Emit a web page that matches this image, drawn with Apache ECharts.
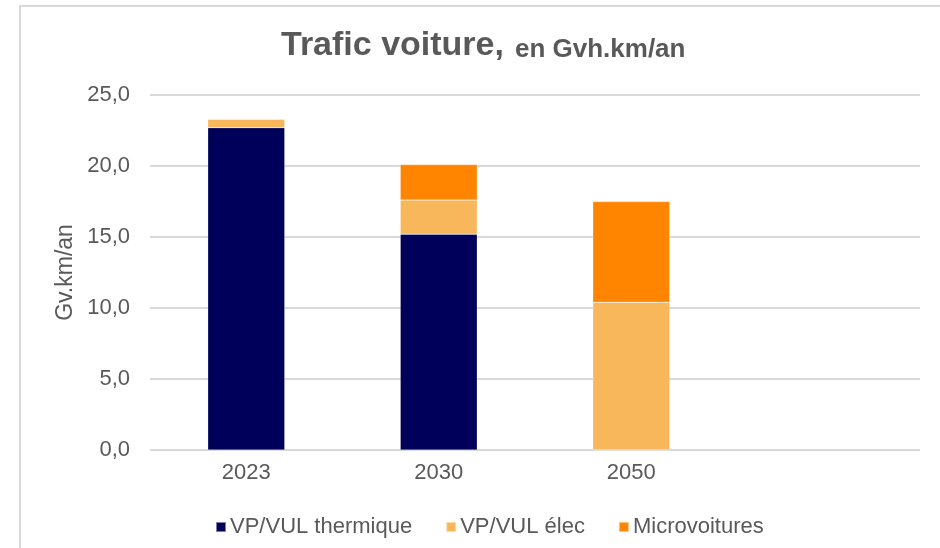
<!DOCTYPE html>
<html>
<head>
<meta charset="utf-8">
<script src="https://cdn.jsdelivr.net/npm/echarts@6/dist/echarts.min.js"></script>
<style>html,body{margin:0;padding:0;background:#fff}#c{width:940px;height:548px}</style>
</head>
<body>
<div id="c"></div>
<script>
const categories = ['2023', '2030', '2050', ''];
const thermique = [22.7, 15.2, 0, null];
const elec = [0.6, 2.4, 10.4, null];
const micro = [0, 2.5, 7.1, null];
const seriesNames = ['VP/VUL thermique', 'VP/VUL élec', 'Microvoitures'];
const colors = ['#00005A', '#F9B75B', '#FF8500'];

const chart = echarts.init(document.getElementById('c'));
const font = 'Liberation Sans, Arial, sans-serif';
const mk = (name, data, color) => ({
  name, type: 'bar', stack: 'total', data, barWidth: '40%',
  itemStyle: { color, borderColor: 'rgba(255,255,255,0.5)', borderWidth: 0.5 }
});
chart.setOption({
  animation: false,
  color: colors,
  textStyle: { fontFamily: font },
  graphic: [
    { type: 'polyline', shape: { points: [[20, 548], [20, 6], [940, 6]] },
      style: { stroke: '#D9D9D9', lineWidth: 2, fill: null } }
  ],
  title: {
    text: '{a|Trafic voiture,}{b|en Gvh.km/an}',
    left: 276, top: 20,
    textStyle: {
      rich: {
        a: { fontFamily: font, fontSize: 34, fontWeight: 'bold', color: '#595959', lineHeight: 38, verticalAlign: 'bottom' },
        b: { fontFamily: font, fontSize: 26, fontWeight: 'bold', color: '#595959', lineHeight: 38, verticalAlign: 'bottom', padding: [0, 0, 0, 11] }
      }
    }
  },
  grid: { left: 150, right: 20, top: 95, bottom: 98 },
  legend: {
    top: 511, left: 210, itemWidth: 10, itemHeight: 10, itemGap: 33,
    icon: 'rect',
    textStyle: { fontFamily: font, fontSize: 22, color: '#595959', padding: [0, 0, 0, -1] },
    data: seriesNames
  },
  xAxis: {
    type: 'category', data: categories,
    axisLine: { show: false }, axisTick: { show: false },
    axisLabel: { fontFamily: font, fontSize: 22, color: '#595959', margin: 12 }
  },
  yAxis: {
    type: 'value', min: 0, max: 25, interval: 5,
    name: 'Gv.km/an', nameLocation: 'middle', nameGap: 73, nameMoveOverlap: false,
    nameTextStyle: { fontFamily: font, fontSize: 23, color: '#595959' },
    axisLabel: { fontFamily: font, fontSize: 22, color: '#595959', margin: 20,
      formatter: v => v.toFixed(1).replace('.', ',') },
    splitLine: { lineStyle: { color: '#D9D9D9', width: 2 } }
  },
  series: [
    mk(seriesNames[0], thermique, colors[0]),
    mk(seriesNames[1], elec, colors[1]),
    mk(seriesNames[2], micro, colors[2])
  ]
});
</script>
</body>
</html>
